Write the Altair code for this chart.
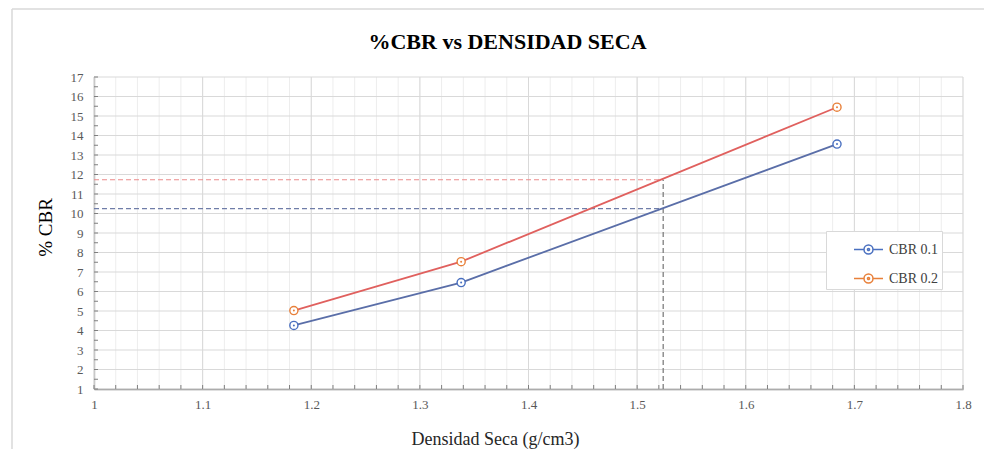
import altair as alt
import pandas as pd
import numpy as np

# ---- data ----
density = [1.184, 1.338, 1.684]
cbr_01 = [4.26, 6.46, 13.56]
cbr_02 = [5.02, 7.53, 15.45]
series = ["CBR 0.1", "CBR 0.2"]
design_density = 1.524
design_cbr = [10.25, 11.73]
x_tick_values = [1.0, 1.1, 1.2, 1.3, 1.4, 1.5, 1.6, 1.7, 1.8]
y_tick_values = list(range(1, 18))

line_colors = ["#5A6EA8", "#E0605E"]
marker_colors = ["#4A70C0", "#E8803A"]
dash_colors = ["#6F7DA8", "#EB8A8A"]

FONT = "Liberation Serif"
W, H = 869, 312

df = pd.DataFrame({
    "x": density * 2,
    "y": cbr_01 + cbr_02,
    "serie": [series[0]] * 3 + [series[1]] * 3,
})

xs = alt.Scale(domain=[1, 1.8], nice=False, zero=False)
ys = alt.Scale(domain=[1, 17], nice=False, zero=False)

ax_x = alt.Axis(
    values=x_tick_values, labelExpr="format(datum.value, '.1~f')",
    grid=False, ticks=False, domainColor="#7F7F7F", domainWidth=1.3,
    labelFont=FONT, labelFontSize=13, labelColor="#595959", labelPadding=9,
    labelFlush=False, labelBaseline="top",
    title="Densidad  Seca (g/cm3)", titleFont=FONT, titleFontSize=18,
    titleFontWeight="normal", titleColor="#262626",
    titleX=401, titleY=50, titleAlign="center", titleBaseline="middle")
ax_y = alt.Axis(
    values=y_tick_values, grid=False, ticks=False, domainColor="#7F7F7F",
    domainWidth=1.3, labelFont=FONT, labelFontSize=13, labelColor="#595959",
    labelPadding=11, labelFlush=False,
    title="% CBR", titleFont=FONT, titleFontSize=19, titleFontWeight="normal",
    titleColor="#000000", titleX=-49, titleY=150, titleAngle=-90,
    titleAlign="center", titleBaseline="middle")


def X(field):
    return alt.X(field, type="quantitative", scale=xs, axis=ax_x)


def Y(field):
    return alt.Y(field, type="quantitative", scale=ys, axis=ax_y)


# grid helpers
minor_x = pd.DataFrame({"x": np.round(np.arange(1.0, 1.8001, 0.02), 3)})
major_x = pd.DataFrame({"x": x_tick_values})
major_y = pd.DataFrame({"y": y_tick_values})
minor_ticks_y = pd.DataFrame({"y": np.arange(1, 17.01, 0.5)})

grid_minor_x = alt.Chart(minor_x).mark_rule(color="#EDEDED", strokeWidth=1).encode(x=X("x"))
grid_major_x = alt.Chart(major_x).mark_rule(color="#D9D9D9", strokeWidth=1).encode(x=X("x"))
grid_y = alt.Chart(major_y).mark_rule(color="#D9D9D9", strokeWidth=1.2).encode(y=Y("y"))

ticks_x = alt.Chart(minor_x).mark_rule(color="#7F7F7F", strokeWidth=1).encode(
    x=X("x"), y=alt.value(H - 4), y2=alt.value(H))
ticks_y = alt.Chart(minor_ticks_y).mark_rule(color="#7F7F7F", strokeWidth=1).encode(
    y=Y("y"), x=alt.value(0), x2=alt.value(4))

# design guide lines
guide_df = pd.DataFrame({"x0": [1.0, 1.0], "x1": [design_density] * 2,
                         "y": design_cbr, "serie": series})
h_guides = alt.Chart(guide_df).mark_rule(strokeDash=[5, 3], strokeWidth=1.2).encode(
    x=X("x0"), x2="x1:Q", y=Y("y"),
    color=alt.Color("serie:N", scale=alt.Scale(domain=series, range=dash_colors), legend=None))
v_guide = alt.Chart(pd.DataFrame({"x": [design_density], "y0": [1.0], "y1": [max(design_cbr)]})).mark_rule(
    strokeDash=[5, 3], strokeWidth=1.3, color="#7F7F7F").encode(
    x=X("x"), y=Y("y0"), y2="y1:Q")

legend_symbol = ("M-1,0L-0.31,0M0.31,0L1,0"
                 "M0.31,0A0.31,0.31,0,1,1,-0.31,0A0.31,0.31,0,1,1,0.31,0"
                 "M0.07,0A0.07,0.07,0,1,1,-0.07,0A0.07,0.07,0,1,1,0.07,0")

lines = alt.Chart(df).mark_line(strokeWidth=1.8).encode(
    x=X("x"), y=Y("y"),
    stroke=alt.Stroke("serie:N", scale=alt.Scale(domain=series, range=line_colors), legend=None),
)

markers = alt.Chart(df).mark_point(shape="circle", filled=False, size=66, strokeWidth=1.4,
                                   fill="#FFFFFF", fillOpacity=1, opacity=1).encode(
    x=X("x"), y=Y("y"),
    color=alt.Color("serie:N", scale=alt.Scale(domain=series, range=marker_colors),
                    legend=alt.Legend(
                        title=None, orient="none", legendX=732, legendY=154,
                        strokeColor="#D9D9D9", fillColor="#FFFFFF", padding=3,
                        rowPadding=6, symbolType=legend_symbol, symbolSize=841,
                        symbolStrokeWidth=1.5, symbolFillColor="#FFFFFF",
                        symbolOpacity=1,
                        symbolOffset=24, labelOffset=5,
                        labelFont=FONT, labelFontSize=14, labelColor="#404040",
                        labelExpr="pad(datum.label, 15, '\u00a0')")),
)
dots = alt.Chart(df).mark_circle(size=4, opacity=1).encode(
    x=X("x"), y=Y("y"),
    fill=alt.Fill("serie:N", scale=alt.Scale(domain=series, range=marker_colors), legend=None))

frame_left = alt.Chart(pd.DataFrame({"a": [0]})).mark_rule(color="#D9D9D9", strokeWidth=1.5).encode(
    x=alt.value(-82), y=alt.value(-68), y2=alt.value(380))
frame_top = alt.Chart(pd.DataFrame({"a": [0]})).mark_rule(color="#D9D9D9", strokeWidth=1.5).encode(
    x=alt.value(-82), x2=alt.value(900), y=alt.value(-68))

chart = alt.layer(
    grid_minor_x, grid_major_x, grid_y, ticks_x, ticks_y,
    h_guides, v_guide, lines, markers, dots, frame_left, frame_top,
).resolve_scale(color="independent", stroke="independent", fill="independent").properties(
    width=W, height=H,
    title=alt.TitleParams(
        "%CBR vs DENSIDAD SECA", font=FONT, fontSize=22, fontWeight="bold",
        color="#000000", anchor="middle", dx=-21, offset=-63, baseline="alphabetic",
        frame="group"),
    autosize=alt.AutoSizeParams(type="none"),
    padding={"left": 86, "top": 69, "right": 21, "bottom": 60},
).configure_view(stroke=None)

chart.save("out.html", embed_options={"renderer": "svg", "actions": False})
